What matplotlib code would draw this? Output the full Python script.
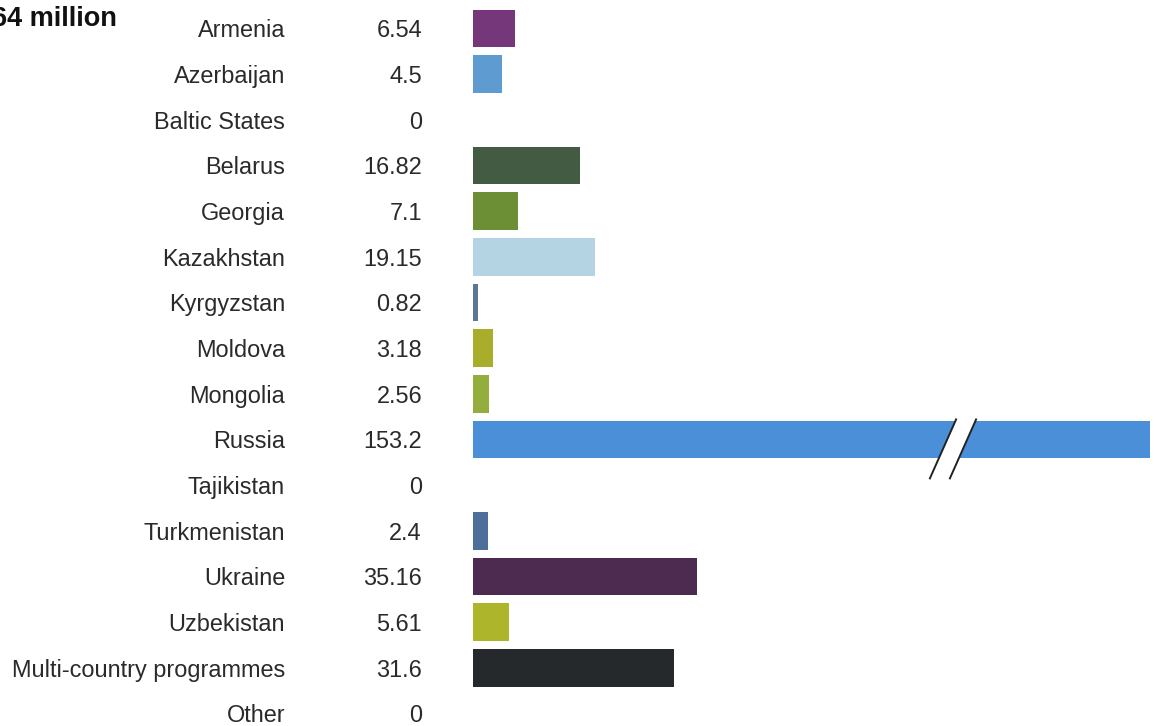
import matplotlib
matplotlib.use("Agg")
import matplotlib.pyplot as plt
from matplotlib.patches import Polygon
from matplotlib.transforms import blended_transform_factory

countries = ["Armenia", "Azerbaijan", "Baltic States", "Belarus", "Georgia",
             "Kazakhstan", "Kyrgyzstan", "Moldova", "Mongolia", "Russia",
             "Tajikistan", "Turkmenistan", "Ukraine", "Uzbekistan",
             "Multi-country programmes", "Other"]
values = [6.54, 4.5, 0, 16.82, 7.1, 19.15, 0.82, 3.18, 2.56, 153.2,
          0, 2.4, 35.16, 5.61, 31.6, 0]
value_labels = ["6.54", "4.5", "0", "16.82", "7.1", "19.15", "0.82", "3.18",
                "2.56", "153.2", "0", "2.4", "35.16", "5.61", "31.6", "0"]
colors = ["#76377a", "#5d9bd1", "#ffffff", "#435a43", "#6c8e35",
          "#b4d4e4", "#5a7896", "#a9ad2c", "#93ae3c", "#4a8fd8",
          "#ffffff", "#4e6f99", "#4d2b50", "#adb52b", "#25292b", "#ffffff"]
title_text = "64 million"

W, H = 1157, 726
fig = plt.figure(figsize=(W / 100, H / 100), dpi=100)
fig.patch.set_facecolor("white")

x0_px, x1_px = 473, 1150
ax = fig.add_axes([x0_px / W, 0, (x1_px - x0_px) / W, 1])
xmax = 106.5
row_px = 45.67
first_px = 28.5
ax.set_xlim(0, xmax)
ax.set_ylim((H - first_px) / row_px, -first_px / row_px)
ax.axis("off")

ypos = list(range(len(countries)))
shown = [min(v, xmax) for v in values]
ax.barh(ypos, shown, height=0.82, color=colors, edgecolor="none", clip_on=False)

fnt = "Liberation Sans"
txt_color = "#2a2a2a"
tr = blended_transform_factory(fig.transFigure, ax.transData)
for y, name, lab in zip(ypos, countries, value_labels):
    ax.text(285 / W, y + 0.05, name, transform=tr, ha="right", va="center",
            fontsize=16.9, family=fnt, color=txt_color)
    ax.text(422 / W, y + 0.05, lab, transform=tr, ha="right", va="center",
            fontsize=16.9, family=fnt, color=txt_color)

# axis break on the truncated bar
ri = values.index(max(values))
px_per_unit = (x1_px - x0_px) / xmax
bx = (953 - x0_px) / px_per_unit
dx_half = 13.5 / px_per_unit
gap = 20 / px_per_unit
yb, yt = ri + 0.87, ri - 0.46
p = Polygon([(bx - gap / 2 - dx_half, yb), (bx + gap / 2 - dx_half, yb),
             (bx + gap / 2 + dx_half, yt), (bx - gap / 2 + dx_half, yt)],
            closed=True, facecolor="white", edgecolor="none", zorder=3)
ax.add_patch(p)
for s in (-gap / 2, gap / 2):
    ax.plot([bx + s - dx_half, bx + s + dx_half], [yb, yt], color="#222222",
            lw=1.4, zorder=4, solid_capstyle="butt")

fig.text(117 / W, 1 - 19 / H, title_text, ha="right", va="center",
         fontsize=19.5, fontweight="bold", family=fnt, color="#111111")

fig.savefig("out.png", dpi=100, facecolor="white")
